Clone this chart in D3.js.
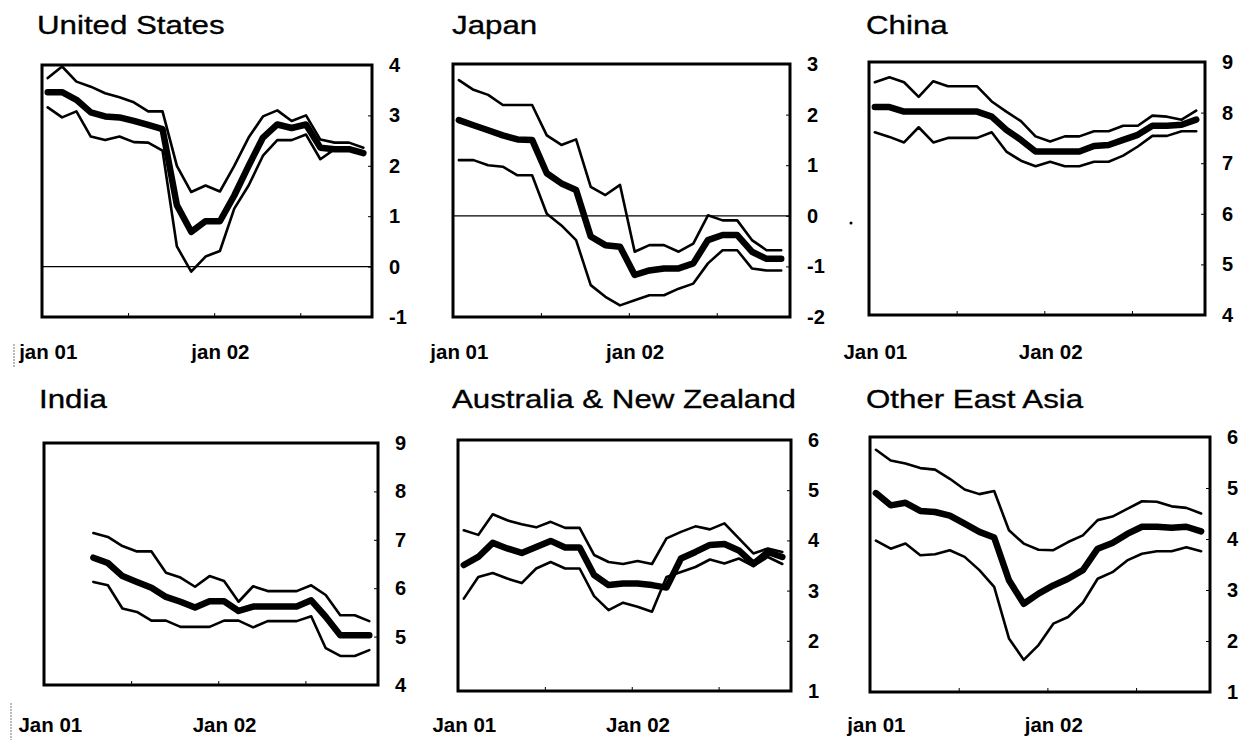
<!DOCTYPE html>
<html><head><meta charset="utf-8">
<script src="https://cdn.jsdelivr.net/npm/d3@7"></script>
<style>body{margin:0;background:#fff}svg{display:block}</style>
</head><body>
<svg id="chart" width="1243" height="740"></svg>
<script>
// ---------- DATA ----------
const months = ["Jan 01","Feb 01","Mar 01","Apr 01","May 01","Jun 01","Jul 01","Aug 01","Sep 01","Oct 01","Nov 01","Dec 01",
                "Jan 02","Feb 02","Mar 02","Apr 02","May 02","Jun 02","Jul 02","Aug 02","Sep 02","Oct 02","Nov 02"];
const titles = ["United States","Japan","China","India","Australia & New Zealand","Other East Asia"];
const xTickLabels = [["jan 01","jan 02"],["jan 01","jan 02"],["Jan 01","Jan 02"],["Jan 01","Jan 02"],["Jan 01","Jan 02"],["jan 01","jan 02"]];
const xTickMonths = ["Jan 01","Jan 02"];
const yTickValues = [[-1,0,1,2,3,4],[-2,-1,0,1,2,3],[4,5,6,7,8,9],[4,5,6,7,8,9],[1,2,3,4,5,6],[1,2,3,4,5,6]];

const usHigh = [3.74,3.97,3.67,3.57,3.44,3.36,3.26,3.08,3.08,2.00,1.48,1.61,1.49,2.00,2.56,2.98,3.10,2.89,3.00,2.52,2.46,2.46,2.36];
const usMid  = [3.46,3.46,3.31,3.06,2.98,2.96,2.89,2.81,2.73,1.22,0.69,0.90,0.90,1.41,2.00,2.56,2.82,2.75,2.82,2.36,2.33,2.33,2.25];
const usLow  = [3.16,2.96,3.08,2.58,2.51,2.58,2.47,2.46,2.30,0.40,-0.10,0.20,0.31,1.15,1.61,2.20,2.51,2.51,2.62,2.13,2.33,2.33,2.26];

const jpHigh = [2.68,2.49,2.39,2.19,2.19,2.19,1.59,1.40,1.51,0.57,0.41,0.61,-0.71,-0.58,-0.58,-0.71,-0.55,0.01,-0.09,-0.09,-0.48,-0.68,-0.68];
const jpMid  = [1.89,1.79,1.69,1.59,1.51,1.50,0.84,0.64,0.51,-0.41,-0.58,-0.61,-1.17,-1.08,-1.04,-1.04,-0.94,-0.48,-0.38,-0.38,-0.71,-0.85,-0.85];
const jpLow  = [1.10,1.10,1.00,0.97,0.80,0.80,0.04,-0.19,-0.48,-1.37,-1.60,-1.77,-1.67,-1.57,-1.57,-1.44,-1.34,-0.94,-0.68,-0.68,-1.04,-1.08,-1.08];

const cnHigh = [8.60,8.70,8.60,8.31,8.62,8.52,8.52,8.52,8.22,8.02,7.83,7.53,7.43,7.53,7.53,7.63,7.63,7.74,7.74,7.94,7.92,7.86,8.04];
const cnMid  = [8.11,8.11,8.02,8.02,8.02,8.02,8.02,8.02,7.92,7.66,7.46,7.23,7.23,7.23,7.23,7.34,7.36,7.46,7.56,7.74,7.74,7.76,7.86];
const cnLow  = [7.61,7.52,7.41,7.71,7.41,7.50,7.50,7.50,7.61,7.23,7.05,6.94,7.03,6.94,6.94,7.03,7.03,7.15,7.33,7.54,7.54,7.63,7.63];

const inHigh = [null,null,null,7.14,7.06,6.87,6.76,6.76,6.32,6.22,6.03,6.25,6.15,5.72,6.04,5.94,5.94,5.94,6.06,5.86,5.44,5.44,5.32];
const inMid  = [null,null,null,6.63,6.52,6.25,6.13,6.01,5.82,5.72,5.60,5.73,5.73,5.53,5.62,5.62,5.62,5.62,5.75,5.41,5.03,5.03,5.03];
const inLow  = [null,null,null,6.13,6.06,5.58,5.51,5.33,5.33,5.20,5.20,5.20,5.33,5.33,5.19,5.32,5.32,5.32,5.42,4.76,4.60,4.60,4.72];

const anzHigh = [4.20,4.11,4.52,4.40,4.32,4.26,4.37,4.25,4.25,3.71,3.57,3.53,3.59,3.53,4.04,4.17,4.28,4.22,4.34,4.04,3.74,3.84,3.77];
const anzMid  = [3.51,3.67,3.95,3.84,3.75,3.87,3.99,3.86,3.86,3.31,3.11,3.14,3.14,3.11,3.06,3.64,3.77,3.91,3.93,3.80,3.53,3.77,3.67];
const anzLow  = [2.84,3.27,3.35,3.24,3.15,3.44,3.57,3.44,3.44,2.89,2.61,2.76,2.68,2.58,3.27,3.37,3.47,3.62,3.54,3.64,3.49,3.67,3.53];

const oeaHigh = [5.75,5.54,5.48,5.39,5.36,5.18,4.97,4.88,4.94,4.17,3.91,3.79,3.78,3.94,4.07,4.37,4.44,4.59,4.74,4.73,4.64,4.61,4.50];
const oeaMid  = [4.90,4.66,4.71,4.55,4.53,4.46,4.30,4.14,4.03,3.19,2.73,2.93,3.09,3.22,3.39,3.81,3.92,4.10,4.24,4.24,4.22,4.24,4.15];
const oeaLow  = [3.97,3.81,3.91,3.68,3.70,3.78,3.65,3.39,3.06,2.05,1.63,1.92,2.34,2.47,2.75,3.22,3.35,3.58,3.71,3.76,3.76,3.84,3.76];

const panelSeries = [
  [usHigh, usMid, usLow],
  [jpHigh, jpMid, jpLow],
  [cnHigh, cnMid, cnLow],
  [inHigh, inMid, inLow],
  [anzHigh, anzMid, anzLow],
  [oeaHigh, oeaMid, oeaLow]
];

// ---------- LAYOUT ----------
const layout = [
  {l:42,  r:372,  t:65,  b:317, tx:37,  ty:34,  lx:359},
  {l:453, r:790,  t:64,  b:317, tx:452, ty:34,  lx:359},
  {l:869, r:1205, t:62,  b:315, tx:866, ty:34,  lx:359},
  {l:44,  r:378,  t:443, b:685, tx:39,  ty:408, lx:732},
  {l:458, r:791,  t:440, b:691, tx:452, ty:408, lx:732},
  {l:870, r:1210, t:437, b:692, tx:866, ty:408, lx:732}
];

const svg = d3.select("#chart");
const FONT = "'Liberation Sans', Arial, Helvetica, sans-serif";

layout.forEach((L, p) => {
  const ticks = yTickValues[p];
  const x = d3.scaleLinear().domain([0, months.length]).range([L.l, L.r]);
  const y = d3.scaleLinear().domain([d3.min(ticks), d3.max(ticks)]).range([L.b, L.t]);
  const px = i => x(i + 0.4);
  const g = svg.append("g");

  // title
  g.append("text")
    .attr("transform", `translate(${L.tx},${L.ty}) scale(1.18,1)`)
    .attr("font-family", FONT).attr("font-size", 26.5).attr("fill", "#000")
    .attr("stroke", "#000").attr("stroke-width", 0.35)
    .text(titles[p]);

  // zero line
  if (d3.min(ticks) < 0) {
    g.append("line").attr("x1", L.l).attr("x2", L.r)
      .attr("y1", y(0)).attr("y2", y(0))
      .attr("stroke", "#000").attr("stroke-width", 1.2);
  }

  // right axis (inward ticks + labels)
  const ya = g.append("g").attr("transform", `translate(${L.r},0)`)
    .call(d3.axisRight(y).tickValues(ticks).tickSize(-4).tickPadding(17).tickFormat(d => String(d)));
  ya.select(".domain").remove();
  ya.selectAll("line").attr("stroke", "#000").attr("stroke-width", 1);
  ya.selectAll("text").attr("font-family", FONT).attr("font-weight", "bold")
    .attr("font-size", 20).attr("fill", "#000");

  // bottom inward ticks (half-years)
  const xa = g.append("g").attr("transform", `translate(0,${L.b})`)
    .call(d3.axisBottom(x).tickValues([months.indexOf("Jul 01"), months.indexOf("Jan 02"), months.indexOf("Jul 02")]).tickSize(-4).tickFormat(""));
  xa.select(".domain").remove();
  xa.selectAll("line").attr("stroke", "#000");

  // x labels
  const labIdx = xTickMonths.map(m => months.indexOf(m) + 0.4);
  const xl = g.append("g").attr("transform", `translate(0,${L.lx})`)
    .call(d3.axisBottom(x).tickValues(labIdx).tickSize(0).tickPadding(0)
      .tickFormat((d, i) => xTickLabels[p][i]));
  xl.select(".domain").remove();
  xl.selectAll("text").attr("dy", null).attr("y", 0)
    .attr("font-family", FONT).attr("font-weight", "bold")
    .attr("font-size", 20.5).attr("fill", "#000");

  // series
  const [hi, mid, lo] = panelSeries[p];
  const line = d3.line().defined(d => d != null).x((d, i) => px(i)).y(d => y(d));
  [hi, lo].forEach(s => {
    g.append("path").datum(s).attr("d", line)
      .attr("fill", "none").attr("stroke", "#000").attr("stroke-width", 2.6)
      .attr("stroke-linejoin", "round").attr("stroke-linecap", "round");
  });
  g.append("path").datum(mid).attr("d", line)
    .attr("fill", "none").attr("stroke", "#000").attr("stroke-width", 6.5)
    .attr("stroke-linejoin", "round").attr("stroke-linecap", "round");

  // box
  g.append("rect").attr("x", L.l).attr("y", L.t)
    .attr("width", L.r - L.l).attr("height", L.b - L.t)
    .attr("fill", "none").attr("stroke", "#000").attr("stroke-width", 3);
});

// small scan marks in the original
svg.append("line").attr("x1", 14).attr("x2", 14).attr("y1", 344).attr("y2", 368)
  .attr("stroke", "#777").attr("stroke-width", 1).attr("stroke-dasharray", "2,1");
svg.append("line").attr("x1", 11).attr("x2", 11).attr("y1", 703).attr("y2", 740)
  .attr("stroke", "#777").attr("stroke-width", 1).attr("stroke-dasharray", "2,1");
svg.append("circle").attr("cx", 851).attr("cy", 223).attr("r", 1.5).attr("fill", "#000");
</script>
</body></html>
